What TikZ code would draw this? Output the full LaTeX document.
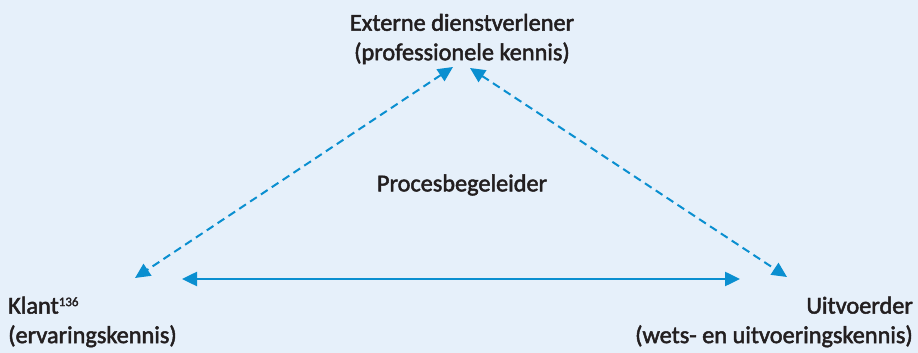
\documentclass[tikz,border=0pt]{standalone}
\usepackage{fontspec}
\setmainfont{Carlito}[FakeBold=2]
\usetikzlibrary{arrows.meta}
\definecolor{bgblue}{HTML}{E6F0FA}
\definecolor{linkblue}{HTML}{0A8FD0}
\definecolor{inktext}{HTML}{231F20}
\newcommand{\refmark}[1]{\raisebox{7.5pt}{\fontsize{13}{13}\selectfont #1}}
\begin{document}
\begin{tikzpicture}[x=1pt,y=1pt,
  label text/.style={font=\fontsize{24.3}{29.5}\selectfont, text=inktext, inner sep=0pt},
  link/.style={draw=linkblue, line width=2.5pt, {Triangle[length=15pt,width=14pt]}-{Triangle[length=15pt,width=14pt]}},
  dashedlink/.style={link, line width=2pt, dash pattern=on 8pt off 5pt}]
  % canvas
  \fill[bgblue] (0,0) rectangle (918,353);
  \useasboundingbox (0,0) rectangle (918,353);
  % actors
  \node[label text, align=center] (ext) at (462,314) {Externe dienstverlener\\(professionele kennis)};
  \node[label text, align=center] (proc) at (462,168) {Procesbegeleider};
  \node[label text, align=left, anchor=west] (klant) at (8,31) {Klant\refmark{136}\\(ervaringskennis)};
  \node[label text, align=right, anchor=east] (uit) at (913,31) {Uitvoerder\\(wets- en uitvoeringskennis)};
  % arrow end points
  \coordinate (extL) at (453,286);
  \coordinate (extR) at (470,285);
  \coordinate (klantTop) at (135,75);
  \coordinate (uitTop) at (787,76);
  \coordinate (klantSide) at (182,74);
  \coordinate (uitSide) at (740,74);
  % relations
  \draw[dashedlink] (extL) -- (klantTop);
  \draw[dashedlink] (extR) -- (uitTop);
  \draw[link] (klantSide) -- (uitSide);
\end{tikzpicture}
\end{document}
